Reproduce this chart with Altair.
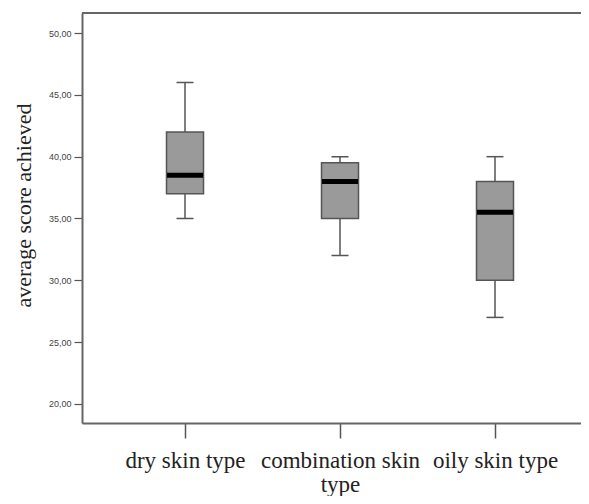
import altair as alt
import pandas as pd

categories = ["dry skin type", "combination skin type", "oily skin type"]
lower = [35, 32, 27]
q1 = [37, 35, 30]
median = [38.5, 38, 35.5]
q3 = [42, 39.5, 38]
upper = [46, 40, 40]

df = pd.DataFrame({
    "skin": categories,
    "lower": lower,
    "q1": q1,
    "median": median,
    "q3": q3,
    "upper": upper,
})

label_expr = ("length(datum.label) > 16 ? "
              "[slice(datum.label, 0, lastindexof(datum.label, ' ')), "
              "slice(datum.label, lastindexof(datum.label, ' ') + 1)] : datum.label")

W = 499
H = 410

x_enc = alt.X(
    "skin:N",
    sort=categories,
    scale=alt.Scale(type="point", padding=0.6097, align=0.545),
    axis=alt.Axis(
        title=None,
        labelAngle=0,
        labelFont="Liberation Serif",
        labelFontSize=23,
        labelColor="#222222",
        labelPadding=11,
        labelLimit=400,
        labelOverlap=False,
        labelLineHeight=24,
        labelExpr=label_expr,
        tickSize=15,
        tickColor="#555555",
        tickWidth=1.5,
        domainColor="#666666",
        domainWidth=2,
        grid=False,
    ),
)

y_scale = alt.Scale(domain=[18.46, 51.62], nice=False, zero=False)
y_axis = alt.Axis(
    title="average score achieved",
    titleFont="Liberation Serif",
    titleFontSize=22,
    titleFontWeight="normal",
    titleColor="#222222",
    titlePadding=13,
    titleY=192,
    values=[20, 25, 30, 35, 40, 45, 50],
    labelExpr="replace(format(datum.value, '.2f'), '.', ',')",
    labelFont="Liberation Sans",
    labelFontSize=9,
    labelColor="#444444",
    labelPadding=3,
    tickSize=8,
    tickColor="#555555",
    tickWidth=1.2,
    domainColor="#666666",
    domainWidth=2,
    grid=False,
)

base = alt.Chart(df)

whisker = base.mark_rule(color="#555555", strokeWidth=1.5).encode(
    x=x_enc,
    y=alt.Y("lower:Q", scale=y_scale, axis=y_axis),
    y2="upper:Q",
)

caps_low = base.mark_tick(color="#555555", size=17, thickness=1.5, opacity=1).encode(
    x=x_enc, y=alt.Y("lower:Q", scale=y_scale)
)
caps_up = base.mark_tick(color="#555555", size=17, thickness=1.5, opacity=1).encode(
    x=x_enc, y=alt.Y("upper:Q", scale=y_scale)
)

box = base.mark_bar(size=37, fill="#9a9a9a", stroke="#555555", strokeWidth=1.5, opacity=1).encode(
    x=x_enc,
    y=alt.Y("q1:Q", scale=y_scale),
    y2="q3:Q",
)

med = base.mark_tick(color="#000000", size=36, thickness=5, opacity=1).encode(
    x=x_enc, y=alt.Y("median:Q", scale=y_scale)
)

top_line = base.mark_rule(color="#666666", strokeWidth=2).encode(
    x=alt.value(0), x2=alt.value(W), y=alt.value(0)
)

chart = alt.layer(whisker, caps_low, caps_up, box, med, top_line).properties(
    width=W,
    height=H,
    padding={"left": 74, "top": 5, "right": 0, "bottom": 73},
    autosize=alt.AutoSizeParams(type="none"),
).configure_view(stroke=None).configure(background="white")

chart.save("out.html", embed_options={"renderer": "svg", "actions": False})
